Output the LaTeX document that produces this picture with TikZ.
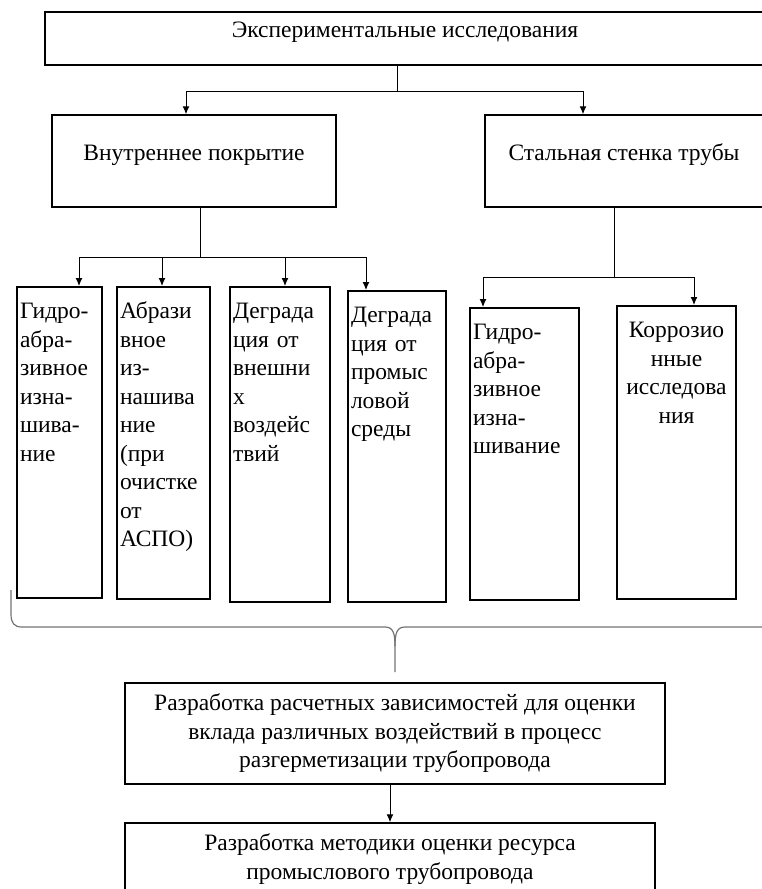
\documentclass[tikz,border=0pt]{standalone}
\usepackage{fontspec}
\setmainfont{Liberation Serif}
\usetikzlibrary{arrows.meta}

\begin{document}
\begin{tikzpicture}[x=1pt,y=-1pt,
		every node/.style={font=\rmfamily\fontsize{23.5}{28.5}\selectfont},
		block/.style={draw,line width=1.5pt,align=center,inner sep=3pt},
		head/.style={block,text depth=17pt},
		stage/.style={draw,line width=1.5pt,anchor=north,align=left,inner xsep=3pt,inner ysep=4pt,text height=28pt},
		link/.style={line width=1pt},
		arr/.style={link,-{Latex[length=8pt,width=7pt]}},
		brace/.style={draw=black!55,line width=1.2pt}]
		\useasboundingbox (0,0) rectangle (761,889);

		% upper level
		\node[head,minimum width=720,minimum height=53] (exp) at (405,38.5) {Экспериментальные исследования};
		\node[head,minimum width=284,minimum height=92] (coat) at (194,161) {Внутреннее покрытие};
		\node[head,minimum width=278,minimum height=92] (steel) at (624,161) {Стальная стенка трубы};

		\coordinate (fork) at (397,91);
		\coordinate (forkL) at (186,91);
		\coordinate (forkR) at (583,91);
		\draw[link] (exp.south -| fork) -- (fork);
		\draw[link] (forkL) -- (forkR);
		\draw[arr] (forkL) -- (forkL |- coat.north);
		\draw[arr] (forkR) -- (forkR |- steel.north);

		% kinds of tests
		\node[stage,text width=79pt,text depth=275pt] (g1) at (59.5,286) {Гидро-\\абра-\\зивное\\изна-\\шива-\\ние};
		\node[stage,text width=87pt,text depth=276pt] (g2) at (163.5,286) {Абрази\\вное\\из-\\нашива\\ние\\(при\\очистке\\от\\АСПО)};
		\node[stage,text width=94pt,text depth=279pt] (g3) at (280,286) {Деграда\\ция от\\внешни\\х\\воздейс\\твий};
		\node[stage,text width=92pt,text depth=275pt] (g4) at (397,290) {Деграда\\ция от\\промыс\\ловой\\среды};
		\node[stage,text width=103pt,text depth=256pt] (g5) at (524.5,307) {Гидро-\\абра-\\зивное\\изна-\\шивание};
		\node[stage,align=center,text width=113pt,text depth=257pt] (g6) at (676.5,305) {Коррозио\\нные\\исследова\\ния};

		\coordinate (busL) at (200,257);
		\coordinate (b1) at (79,257);
		\coordinate (b2) at (162,257);
		\coordinate (b3) at (285,257);
		\coordinate (b4) at (366,257);
		\draw[link] (coat.south -| busL) -- (busL);
		\draw[link] (b1) -- (b4);
		\draw[arr] (b1) -- (b1 |- g1.north);
		\draw[arr] (b2) -- (b2 |- g2.north);
		\draw[arr] (b3) -- (b3 |- g3.north);
		\draw[arr] (b4) -- (b4 |- g4.north);

		\coordinate (busR) at (614,277);
		\coordinate (b5) at (483,277);
		\coordinate (b6) at (694,277);
		\draw[link] (steel.south -| busR) -- (busR);
		\draw[link] (b5) -- (b6);
		\draw[arr] (b5) -- (b5 |- g5.north);
		\draw[arr] (b6) -- (b6 |- g6.north);

		% brace
		\coordinate (tip) at (395,672);
		\draw[brace] (11,590) -- (11,614) .. controls (11,623) and (14,627) .. (22,627) -- (385,627) .. controls (393,627) and (395,633) .. (395,646) -- (tip);
		\draw[brace] (395,646) .. controls (395,633) and (397,627) .. (405,627) -- (775,627);

		% results
		\node[block,minimum width=540,minimum height=101] (calc) at (395,733.5) {Разработка расчетных зависимостей для оценки\\вклада различных воздействий в процесс\\разгерметизации трубопровода};
		\node[block,minimum width=530,minimum height=72] (method) at (390,859) {Разработка методики оценки ресурса\\промыслового трубопровода};
		\draw[arr] (calc.south -| method.north) -- (method.north);
	\end{tikzpicture}
\end{document}
